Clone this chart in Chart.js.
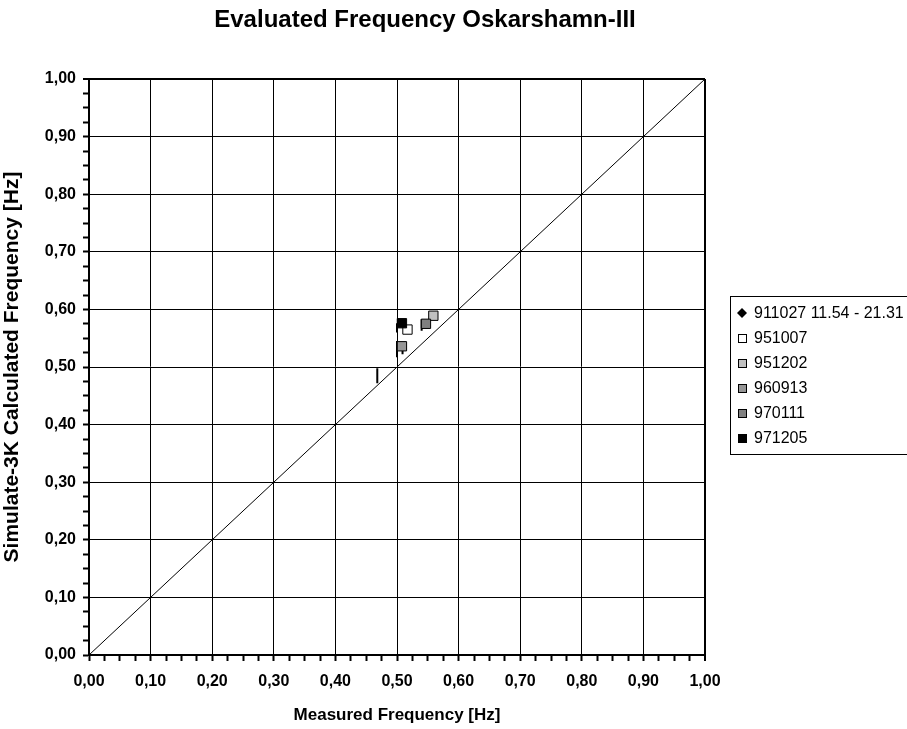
<!DOCTYPE html>
<html>
<head>
<meta charset="utf-8">
<script src="https://cdn.jsdelivr.net/npm/chart.js@4.4.1/dist/chart.umd.min.js"></script>
<style>
  html, body { margin: 0; padding: 0; background: #fff; }
</style>
</head>
<body>
<canvas id="freqChart" width="907" height="729"></canvas>
<script>
// series (legend order)
const seriesNames = ["911027 11.54 - 21.31", "951007", "951202", "960913", "970111", "971205"];
const seriesColors = ["#000000", "#ffffff", "#c0c0c0", "#969696", "#808080", "#000000"];
const seriesMarkers = ["rectRot", "rect", "rect", "rect", "rect", "rect"];

// measured / calculated frequency for the single-point series (index 1..5)
const measuredHz = [0.517, 0.559, 0.508, 0.547, 0.508];
const calculatedHz = [0.565, 0.589, 0.536, 0.575, 0.576];

// 911027 trace, short vertical runs (null = break)
const trace911027X = [0.500, 0.500, null, 0.540, 0.540, null, 0.500, 0.500, null, 0.509, 0.509, null, 0.468, 0.468];
const trace911027Y = [0.576, 0.560, null, 0.583, 0.563, null, 0.545, 0.517, null, 0.531, 0.522, null, 0.498, 0.472];

// y = x reference line
const diagonalX = [0, 1];
const diagonalY = [0, 1];

const axisMin = 0;
const axisMax = 1;
const minorStep = 0.025;

const FONT = "'Liberation Sans', Arial, sans-serif";

const isMajor = (v) => Math.abs(v * 10 - Math.round(v * 10)) < 1e-6;
const fmt = (v) => v.toFixed(2).replace(".", ",");

const toPoints = (xs, ys) => xs.map((x, i) => ({ x: x, y: ys[i] }));

const datasets = [];

// single-point series, later ones drawn on top (like the original)
measuredHz.forEach((mx, i) => {
  const k = i + 1;
  datasets.push({
    label: seriesNames[k],
    data: [{ x: mx, y: calculatedHz[i] }],
    pointStyle: seriesMarkers[k],
    pointRadius: 6.6,
    pointBackgroundColor: seriesColors[k],
    pointBorderColor: "#000",
    pointBorderWidth: 1,
    order: 10 - k,
  });
});

datasets.push({
  label: seriesNames[0],
  data: toPoints(trace911027X, trace911027Y),
  showLine: true,
  spanGaps: false,
  borderColor: seriesColors[0],
  borderWidth: 2,
  pointRadius: 0,
  order: 20,
});

datasets.push({
  label: "diagonal",
  data: toPoints(diagonalX, diagonalY),
  showLine: true,
  borderColor: "#000",
  borderWidth: 1,
  pointRadius: 0,
  order: 30,
});

// title + boxed legend drawn at fixed spots like the Excel original
const decorPlugin = {
  id: "decor",
  afterDraw(chart) {
    const ctx = chart.ctx;
    ctx.save();
    ctx.fillStyle = "#000";
    ctx.textAlign = "center";
    ctx.textBaseline = "middle";
    ctx.font = "bold 24px " + FONT;
    ctx.fillText("Evaluated Frequency Oskarshamn-III", 425, 20);

    // legend box
    ctx.strokeStyle = "#000";
    ctx.lineWidth = 1;
    ctx.strokeRect(730.5, 296.5, 200, 158);
    ctx.font = "16px " + FONT;
    ctx.textAlign = "left";
    seriesNames.forEach((name, i) => {
      const cy = 313 + i * 25;
      const cx = 742;
      ctx.fillStyle = seriesColors[i];
      ctx.strokeStyle = "#000";
      if (seriesMarkers[i] === "rectRot") {
        ctx.beginPath();
        ctx.moveTo(cx, cy - 5);
        ctx.lineTo(cx + 5, cy);
        ctx.lineTo(cx, cy + 5);
        ctx.lineTo(cx - 5, cy);
        ctx.closePath();
        ctx.fill();
      } else {
        ctx.fillRect(cx - 4, cy - 4, 8, 8);
        ctx.strokeRect(cx - 3.5, cy - 3.5, 8, 8);
      }
      ctx.fillStyle = "#000";
      ctx.fillText(name, 754, cy + 1);
    });
    ctx.restore();
  },
};

const axisCommon = (title) => ({
  type: "linear",
  min: axisMin,
  max: axisMax,
  border: { color: "#000", width: 2 },
  grid: {
    color: (c) => (c.tick && isMajor(c.tick.value) ? "#000" : "rgba(0,0,0,0)"),
    lineWidth: (c) => (c.tick && Math.abs(c.tick.value - axisMax) < 1e-6 ? 2 : 1),
    tickColor: "#000",
    tickLength: 6,
    tickWidth: 2,
  },
  ticks: {
    stepSize: minorStep,
    autoSkip: false,
    maxRotation: 0,
    minRotation: 0,
    color: "#000",
    font: { family: FONT, size: 16, weight: "bold" },
    callback: (v) => (isMajor(v) ? fmt(v) : ""),
  },
  title: {
    display: true,
    text: title,
    color: "#000",
    font: { family: FONT, size: 17, weight: "bold" },
  },
});

const xAxis = axisCommon("Measured Frequency [Hz]");
xAxis.ticks.padding = 11;
xAxis.title.padding = { top: 0, bottom: 3 };
xAxis.afterFit = (scale) => { scale.height = 74; };

const yAxis = axisCommon("Simulate-3K Calculated Frequency [Hz]");
yAxis.ticks.padding = 7;
yAxis.title.font = { family: FONT, size: 21, weight: "bold" };
yAxis.title.padding = { top: 0, bottom: 0 };
yAxis.afterFit = (scale) => { scale.width = 89; };

new Chart(document.getElementById("freqChart"), {
  type: "scatter",
  data: { datasets: datasets },
  options: {
    responsive: false,
    animation: false,
    layout: { padding: { top: 79, right: 202, bottom: 0, left: 0 } },
    plugins: {
      legend: { display: false },
      title: { display: false },
      tooltip: { enabled: false },
    },
    scales: { x: xAxis, y: yAxis },
  },
  plugins: [decorPlugin],
});
</script>
</body>
</html>
